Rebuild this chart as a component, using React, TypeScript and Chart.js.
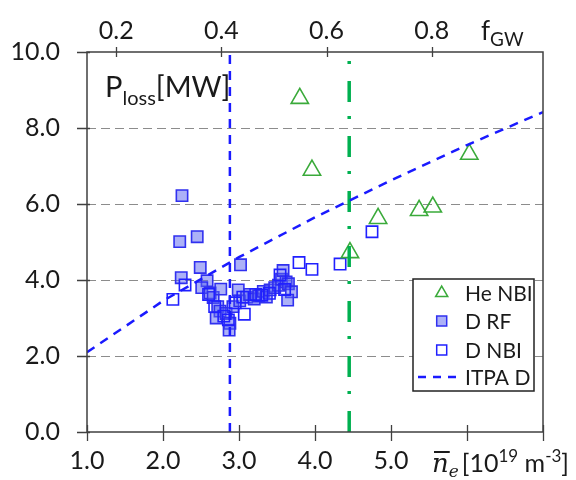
import { useEffect, useRef } from 'react';
import { Chart, registerables } from 'chart.js';

Chart.register(...registerables);

// ---- axis ticks ----
const xTickValues = [1, 2, 3, 4, 5, 6, 7];
const xTickLabels = ['1.0', '2.0', '3.0', '4.0', '5.0', '', ''];
const yTickValues = [0, 2, 4, 6, 8, 10];
const yGridValues = [2, 4, 6, 8];
const fgwTickValues = [0.2, 0.4, 0.6, 0.8];
const FGW_PER_NE = 0.1445; // Greenwald fraction per 10^19 m^-3

// ---- series ----
const heNbiNe = [3.8, 3.96, 4.46, 4.83, 5.37, 5.55, 6.03];
const heNbiP = [8.78, 6.89, 4.72, 5.62, 5.83, 5.92, 7.31];

const dRfNe = [2.25, 2.22, 2.45, 2.49, 3.02, 2.24, 2.58, 2.51, 2.62, 2.66, 2.76, 2.72, 2.75, 2.7, 2.83, 2.88, 2.87, 2.92, 2.99, 3.01, 3.1, 3.14, 3.2, 3.26, 3.32, 3.36, 3.41, 3.47, 3.52, 3.56, 3.58, 3.62, 3.65, 3.69, 3.64];
const dRfP = [6.22, 5.01, 5.14, 4.33, 4.4, 4.06, 3.98, 3.8, 3.66, 3.54, 3.76, 3.3, 3.18, 3.0, 3.12, 2.86, 2.68, 3.3, 3.74, 3.45, 3.55, 3.62, 3.5, 3.58, 3.7, 3.55, 3.74, 3.8, 3.86, 4.02, 4.25, 3.95, 3.9, 3.69, 3.47];

const dNbiNe = [2.13, 2.29, 2.6, 2.68, 2.8, 2.86, 2.95, 3.07, 3.05, 3.22, 3.3, 3.4, 3.54, 3.6, 3.79, 3.96, 4.33, 4.75];
const dNbiP = [3.49, 3.87, 3.62, 3.3, 3.05, 2.95, 3.4, 3.1, 3.55, 3.62, 3.6, 3.65, 4.13, 3.75, 4.46, 4.28, 4.42, 5.27];

const itpaNe = [1, 2, 3, 4, 5, 6, 7];
const itpaP = [2.1, 3.45, 4.6, 5.65, 6.62, 7.55, 8.42];

const blueLineNe = 2.88;
const greenLineNe = 4.45;
const lineSpanP = [0, 10];

const legendLabels = ['He NBI', 'D RF', 'D NBI', 'ITPA D'];

const BLUE = '#1a1aff';
const GREEN = '#00b050';
const TRI = '#3aaa3a';
const AXIS = '#404040';
const TXT = '#1a1a1a';

const pts = (xs: number[], ys: number[]) => xs.map((x, i) => ({ x, y: ys[i] }));

function drawRuns(ctx: CanvasRenderingContext2D, x: number, base: number, parts: [string, string, number][]) {
  let cx = x;
  for (const [t, f, dy] of parts) {
    ctx.font = f;
    ctx.fillText(t, cx, base + dy);
    cx += ctx.measureText(t).width;
  }
  return cx;
}

const framePlugin = {
  id: 'framePlugin',
  beforeDatasetsDraw(chart: any) {
    const { ctx, chartArea: a, scales } = chart;
    ctx.save();
    ctx.strokeStyle = '#8c8c8c';
    ctx.lineWidth = 1.2;
    ctx.setLineDash([9, 5]);
    for (const v of yGridValues) {
      const py = Math.round(scales.y.getPixelForValue(v)) + 0.5;
      ctx.beginPath();
      ctx.moveTo(a.left, py);
      ctx.lineTo(a.right, py);
      ctx.stroke();
    }
    ctx.restore();
  },
  afterDatasetsDraw(chart: any) {
    const { ctx, chartArea: a, scales } = chart;
    ctx.save();
    ctx.strokeStyle = AXIS;
    ctx.lineWidth = 1.5;
    ctx.setLineDash([]);
    ctx.strokeRect(a.left, a.top, a.right - a.left, a.bottom - a.top);
    ctx.lineWidth = 1.3;
    ctx.beginPath();
    for (const v of xTickValues) {
      const px = Math.round(scales.x.getPixelForValue(v)) + 0.5;
      ctx.moveTo(px, a.bottom - 7);
      ctx.lineTo(px, a.bottom + 9);
    }
    for (const v of yTickValues) {
      const py = Math.round(scales.y.getPixelForValue(v)) + 0.5;
      ctx.moveTo(a.left - 10, py);
      ctx.lineTo(a.left + 3, py);
    }
    for (const v of fgwTickValues) {
      const px = Math.round(scales.x2.getPixelForValue(v)) + 0.5;
      ctx.moveTo(px, a.top - 5);
      ctx.lineTo(px, a.top + 5);
    }
    ctx.stroke();

    // texts
    ctx.fillStyle = TXT;
    ctx.textBaseline = 'alphabetic';
    ctx.textAlign = 'left';
    drawRuns(ctx, 105, 97, [
      ['P', '29px Lato', 0],
      ['loss', '20px Lato', 8],
      ['[MW]', '29px Lato', 0],
    ]);
    drawRuns(ctx, 481, 40, [
      ['f', '26px Lato', 0],
      ['GW', '19px Lato', 6],
    ]);
    // n-bar e label
    const nx = 432;
    const nb = 472;
    ctx.font = 'italic 26px "DejaVu Serif"';
    ctx.fillText('n', nx, nb);
    const nw = ctx.measureText('n').width;
    ctx.fillRect(nx + 2, nb - 21, nw - 1, 2);
    ctx.font = 'italic 17px "DejaVu Serif"';
    ctx.fillText('e', nx + nw, nb + 5);
    const ew = ctx.measureText('e').width;
    drawRuns(ctx, nx + nw + ew + 3, nb, [
      ['[10', '25px Lato', 0],
      ['19', '17px Lato', -10],
      [' m', '25px Lato', 0],
      ['-3', '17px Lato', -10],
      [']', '25px Lato', 0],
    ]);

    // legend box
    const lx = 413, ly = 279, lw = 121, lh = 112;
    ctx.fillStyle = '#ffffff';
    ctx.fillRect(lx, ly, lw, lh);
    ctx.strokeStyle = '#222222';
    ctx.lineWidth = 1.5;
    ctx.strokeRect(lx, ly, lw, lh);
    const mx = 441.7;
    const rows = [293, 321, 350, 377];
    // triangle
    const r = 7;
    ctx.beginPath();
    ctx.moveTo(mx, rows[0] - r);
    ctx.lineTo(mx + r * Math.sin((2 * Math.PI) / 3), rows[0] + r / 2);
    ctx.lineTo(mx - r * Math.sin((2 * Math.PI) / 3), rows[0] + r / 2);
    ctx.closePath();
    ctx.strokeStyle = TRI;
    ctx.lineWidth = 1.5;
    ctx.stroke();
    // filled square
    ctx.fillStyle = 'rgba(90,100,240,0.5)';
    ctx.fillRect(mx - 5, rows[1] - 5, 10, 10);
    ctx.strokeStyle = '#3030f0';
    ctx.strokeRect(mx - 5, rows[1] - 5, 10, 10);
    // open square
    ctx.strokeStyle = '#2020ff';
    ctx.strokeRect(mx - 5, rows[2] - 5, 10, 10);
    // dashed line
    ctx.strokeStyle = BLUE;
    ctx.lineWidth = 2.5;
    ctx.setLineDash([8, 7]);
    ctx.beginPath();
    ctx.moveTo(418, rows[3]);
    ctx.lineTo(463, rows[3]);
    ctx.stroke();
    ctx.setLineDash([]);
    ctx.fillStyle = TXT;
    ctx.font = '21px Lato';
    ctx.textBaseline = 'middle';
    legendLabels.forEach((t, i) => ctx.fillText(t, 465, rows[i] + 1));
    ctx.restore();
  },
};

export default function App() {
  const ref = useRef<HTMLCanvasElement>(null);
  useEffect(() => {
    if (!ref.current) return;
    Chart.defaults.font.family = 'Lato';
    const chart = new Chart(ref.current, {
      type: 'scatter',
      data: {
        datasets: [
          {
            label: 'ITPA D',
            data: pts(itpaNe, itpaP),
            showLine: true,
            borderColor: BLUE,
            borderWidth: 2.5,
            borderDash: [9, 7],
            pointRadius: 0,
            fill: false,
          },
          {
            label: 'blue limit',
            data: pts([blueLineNe, blueLineNe], lineSpanP),
            showLine: true,
            borderColor: BLUE,
            borderWidth: 2.5,
            borderDash: [9, 7],
            pointRadius: 0,
            fill: false,
          },
          {
            label: 'green limit',
            data: pts([greenLineNe, greenLineNe], lineSpanP),
            showLine: true,
            borderColor: GREEN,
            borderWidth: 3.5,
            borderDash: [21, 17, 3, 14],
            pointRadius: 0,
            fill: false,
          },
          {
            label: 'He NBI',
            data: pts(heNbiNe, heNbiP),
            pointStyle: 'triangle',
            pointRadius: 10,
            borderColor: TRI,
            backgroundColor: 'rgba(0,0,0,0)',
            borderWidth: 1.6,
          },
          {
            label: 'D NBI',
            data: pts(dNbiNe, dNbiP),
            pointStyle: 'rect',
            pointRadius: 8,
            borderColor: '#2020ff',
            backgroundColor: 'rgba(0,0,0,0)',
            borderWidth: 1.6,
          },
          {
            label: 'D RF',
            data: pts(dRfNe, dRfP),
            pointStyle: 'rect',
            pointRadius: 8,
            borderColor: '#3030f0',
            backgroundColor: 'rgba(90,100,240,0.5)',
            borderWidth: 1.6,
          },
        ],
      },
      options: {
        animation: false,
        responsive: false,
        devicePixelRatio: 1,
        layout: { padding: { left: 0, right: 33, top: 0, bottom: 0 } },
        plugins: { legend: { display: false }, tooltip: { enabled: false } },
        scales: {
          x: {
            type: 'linear',
            position: 'bottom',
            min: 1,
            max: 7,
            grid: { display: false, drawTicks: false },
            border: { display: false },
            afterBuildTicks: (s: any) => {
              s.ticks = xTickValues.map((value) => ({ value }));
            },
            afterFit: (s: any) => {
              s.height = 48;
            },
            ticks: {
              autoSkip: false,
              maxRotation: 0,
              padding: 14,
              color: TXT,
              font: { family: 'Lato', size: 25 },
              callback: (v: any) => xTickLabels[xTickValues.indexOf(Number(v))] ?? '',
            },
          },
          x2: {
            type: 'linear',
            position: 'top',
            min: 1 * FGW_PER_NE,
            max: 7 * FGW_PER_NE,
            grid: { display: false, drawTicks: false },
            border: { display: false },
            afterBuildTicks: (s: any) => {
              s.ticks = fgwTickValues.map((value) => ({ value }));
            },
            afterFit: (s: any) => {
              s.height = 52;
            },
            ticks: {
              autoSkip: false,
              maxRotation: 0,
              padding: 6,
              color: TXT,
              font: { family: 'Lato', size: 25 },
              callback: (v: any) => Number(v).toFixed(1),
            },
          },
          y: {
            type: 'linear',
            min: 0,
            max: 10,
            grid: { display: false, drawTicks: false },
            border: { display: false },
            afterBuildTicks: (s: any) => {
              s.ticks = yTickValues.map((value) => ({ value }));
            },
            afterFit: (s: any) => {
              s.width = 87;
            },
            ticks: {
              padding: 27,
              color: TXT,
              font: { family: 'Lato', size: 25 },
              callback: (v: any) => Number(v).toFixed(1),
            },
          },
        },
      },
      plugins: [framePlugin],
    } as any);
    return () => chart.destroy();
  }, []);
  return (
    <div style={{ position: 'fixed', left: 0, top: 0, width: 576, height: 480, background: '#fff' }}>
      <canvas ref={ref} width={576} height={480} style={{ width: 576, height: 480, display: 'block' }} />
    </div>
  );
}
